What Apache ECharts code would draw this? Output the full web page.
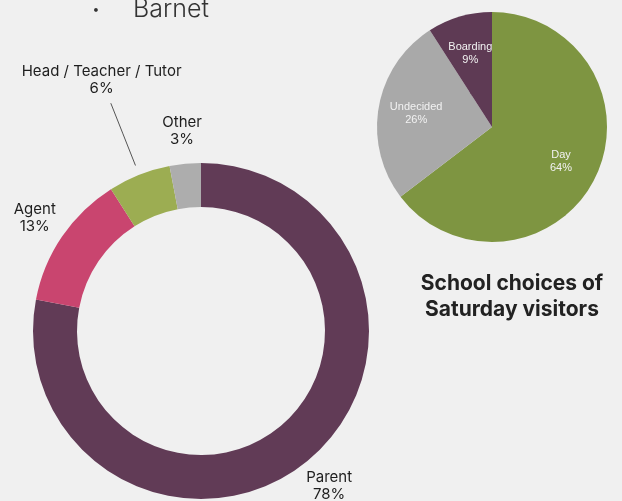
<!DOCTYPE html>
<html>
<head>
<meta charset="utf-8">
<script src="https://cdn.jsdelivr.net/npm/echarts@6/dist/echarts.min.js"></script>
<style>
html,body{margin:0;padding:0;background:#f0f0f0;}
#main{width:622px;height:501px;}
</style>
</head>
<body>
<div id="main"></div>
<script>
// Visitor source (donut)
const sourceCategories = ['Parent', 'Agent', 'Head / Teacher / Tutor', 'Other'];
const sourceValues = [78, 13, 6, 3];
const sourceColors = ['#613b56', '#c9456f', '#9cad52', '#adadad'];

// School choices of Saturday visitors (pie)
const choiceCategories = ['Day', 'Undecided', 'Boarding'];
const choiceValues = [64, 26, 9];
const choiceColors = ['#7e9541', '#a9a9a9', '#5e3a54'];

const titleText = 'Barnet';
const subtitleLines = ['School choices of', 'Saturday visitors'];

// layout constants
const donutCenter = [201, 331];
const donutRadius = [124, 168];
const pieCenter = [492, 127];
const pieRadius = 115;

function midAngles(values) {
  const total = values.reduce((a, b) => a + b, 0);
  let acc = 0;
  return values.map(v => {
    const mid = (acc + v / 2) / total * Math.PI * 2;
    acc += v;
    return mid; // clockwise from top
  });
}
function polar(center, r, a) {
  return [center[0] + r * Math.sin(a), center[1] - r * Math.cos(a)];
}

const donutMids = midAngles(sourceValues);
const pieMids = midAngles(choiceValues);

const chart = echarts.init(document.getElementById('main'), null, {renderer: 'canvas'});
const FONT = 'Inter, "Noto Sans", sans-serif';

chart.setOption({
  backgroundColor: '#f0f0f0',
  animation: false,
  graphic: [
    {type: 'text', left: 92, top: 3, style: {text: '•', font: '300 14px ' + FONT, fill: '#333'}},
    {type: 'text', left: 133, top: -3, style: {text: titleText, font: '300 25px ' + FONT, fill: '#333'}},
    {type: 'text', x: 512, y: 284, style: {text: subtitleLines[0], font: 'bold 21px ' + FONT, fill: '#222', align: 'center', verticalAlign: 'middle'}},
    {type: 'text', x: 512, y: 310, style: {text: subtitleLines[1], font: 'bold 21px ' + FONT, fill: '#222', align: 'center', verticalAlign: 'middle'}}
  ],
  series: [
    {
      type: 'pie',
      center: donutCenter,
      radius: donutRadius,
      startAngle: 90,
      clockwise: true,
      silent: true,
      itemStyle: {borderWidth: 0},
      label: {
        show: true,
        position: 'outside',
        formatter: p => p.name + '\n' + p.value + '%',
        fontFamily: FONT,
        fontSize: 15,
        lineHeight: 17,
        color: '#1e1e1e',
        align: 'center',
        overflow: 'none',
        width: 300
      },
      labelLine: {show: false},
      labelLayout: function (params) {
        const i = params.dataIndex;
        const a = donutMids[i];
        if (i === 2) {
          const p = polar(donutCenter, 270, a);
          return {
            x: p[0], y: p[1], align: 'center', verticalAlign: 'middle',
            labelLinePoints: [polar(donutCenter, 178, a), polar(donutCenter, 212, a), polar(donutCenter, 245, a)]
          };
        }
        const p = polar(donutCenter, 201, a);
        return {x: p[0], y: p[1], align: 'center', verticalAlign: 'middle'};
      },
      data: sourceCategories.map((n, i) => ({
        name: n,
        value: sourceValues[i],
        itemStyle: {color: sourceColors[i]},
        labelLine: i === 2 ? {show: true, lineStyle: {color: '#555', width: 1}} : {show: false}
      }))
    },
    {
      type: 'pie',
      center: pieCenter,
      radius: pieRadius,
      startAngle: 90,
      clockwise: true,
      silent: true,
      itemStyle: {borderWidth: 0},
      label: {
        show: true,
        position: 'inside',
        formatter: p => p.name + '\n' + p.value + '%',
        fontFamily: '"Liberation Sans", Arial, sans-serif',
        fontSize: 11,
        lineHeight: 13,
        color: '#f2f2f2'
      },
      labelLayout: function (params) {
        const p = polar(pieCenter, 77, pieMids[params.dataIndex]);
        return {x: p[0], y: p[1], align: 'center', verticalAlign: 'middle'};
      },
      data: choiceCategories.map((n, i) => ({
        name: n,
        value: choiceValues[i],
        itemStyle: {color: choiceColors[i]}
      }))
    }
  ]
});
</script>
</body>
</html>
